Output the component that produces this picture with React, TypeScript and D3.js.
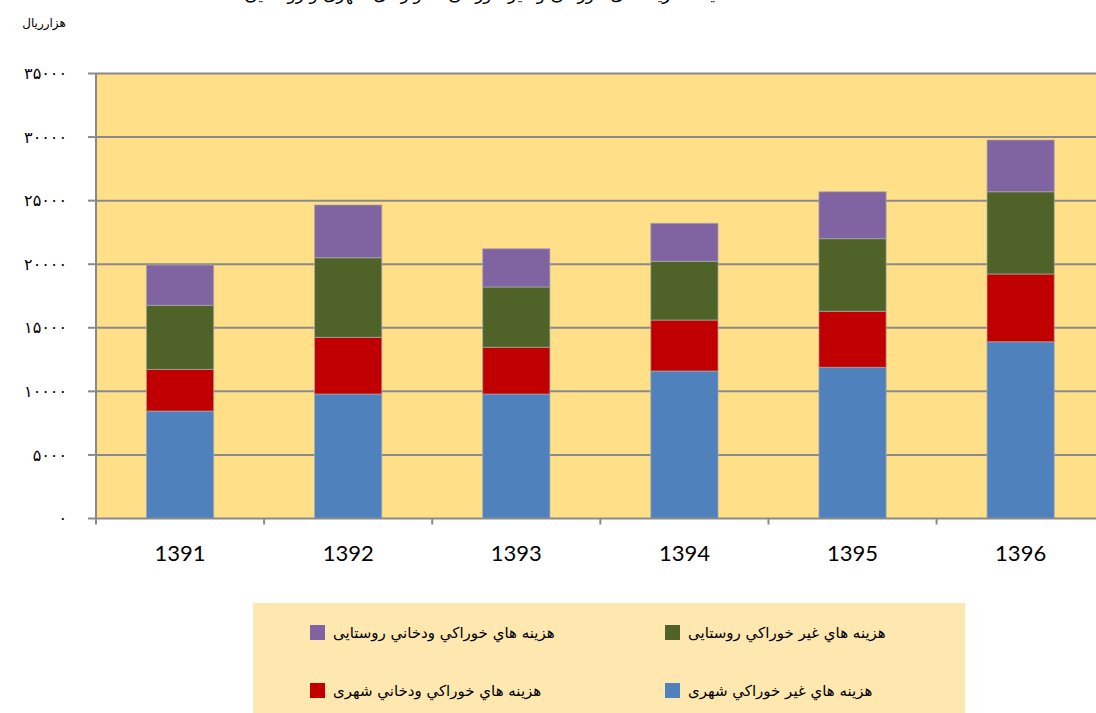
import React from 'react';
import * as d3 from 'd3';

const years = ['1391', '1392', '1393', '1394', '1395', '1396'];
const urbanNonFood = [8450, 9790, 9790, 11600, 11890, 13900];
const urbanFood = [3280, 4460, 3680, 4010, 4410, 5330];
const ruralNonFood = [5035, 6260, 4740, 4620, 5710, 6470];
const ruralFood = [3170, 4150, 3010, 2990, 3690, 4070];
const yTicks = [0, 5000, 10000, 15000, 20000, 25000, 30000, 35000];

const seriesKeys = ['urbanNonFood', 'urbanFood', 'ruralNonFood', 'ruralFood'];
const seriesColors: Record<string, string> = {
  urbanNonFood: '#4F81BD',
  urbanFood: '#C00000',
  ruralNonFood: '#4F6228',
  ruralFood: '#8064A2',
};
const seriesNames: Record<string, string> = {
  urbanNonFood: 'هزینه هاي غیر خوراکي شهری',
  urbanFood: 'هزینه هاي خوراکي ودخاني شهری',
  ruralNonFood: 'هزینه هاي غیر خوراکي روستایی ',
  ruralFood: 'هزینه هاي خوراکي ودخاني روستایی',
};

const title = 'مقایسه هزینه های خوراکی و غیر خوراکی خانوارهای شهری و روستایی';
const yUnit = 'هزارریال';

const persianDigits = '۰۱۲۳۴۵۶۷۸۹';
const toPersian = (n: number) => String(n).replace(/\d/g, d => persianDigits[+d]);

const W = 1096;
const H = 713;
const margin = { left: 96, top: 73.5, bottom: 518.5 };
const plotRight = 1104.7;

export default function App() {
  const rows = years.map((year, i) => ({
    year,
    urbanNonFood: urbanNonFood[i],
    urbanFood: urbanFood[i],
    ruralNonFood: ruralNonFood[i],
    ruralFood: ruralFood[i],
  }));

  const stack = d3.stack<any>().keys(seriesKeys);
  const layers = stack(rows);

  const x = d3.scaleBand<string>().domain(years).range([margin.left, plotRight]).paddingInner(0.6).paddingOuter(0.3);
  const xb = d3.scaleBand<string>().domain(years).range([margin.left, plotRight]);
  const y = d3.scaleLinear().domain([0, 35000]).range([margin.bottom, margin.top]);

  const persianFont = '"DejaVu Sans", sans-serif';
  const grid = '#8a8a8a';

  const legendItems = [
    { key: 'ruralFood', x: 310, y: 625 },
    { key: 'ruralNonFood', x: 665, y: 625 },
    { key: 'urbanFood', x: 310, y: 683 },
    { key: 'urbanNonFood', x: 665, y: 683 },
  ];

  return (
    <svg width={W} height={H} style={{ position: 'absolute', left: 0, top: 0, background: '#fff' }}>
      <text x={491} y={0} textAnchor="middle" fontFamily={persianFont} fontSize={17} fill="#000">
        {title}
      </text>
      <text x={44} y={27} textAnchor="middle" fontFamily={persianFont} fontSize={12} fill="#000">
        {yUnit}
      </text>

      {/* plot background */}
      <rect x={margin.left} y={margin.top} width={plotRight - margin.left} height={margin.bottom - margin.top} fill="#FFDF88" />

      {/* gridlines + y ticks */}
      {yTicks.map(t => (
        <g key={t}>
          {t > 0 && (
            <line x1={margin.left} x2={W} y1={y(t)} y2={y(t)} stroke={grid} strokeWidth={2} />
          )}
          <line x1={88} x2={margin.left} y1={y(t)} y2={y(t)} stroke={grid} strokeWidth={2} />
          <text x={67} y={y(t)} dy="0.35em" textAnchor="end" fontFamily={persianFont} fontSize={16} fill="#000">
            {toPersian(t)}
          </text>
        </g>
      ))}

      {/* bars */}
      {layers.map(layer => (
        <g key={layer.key}>
          {layer.map((d, i) => (
            <rect
              key={i}
              x={x(years[i])}
              width={x.bandwidth()}
              y={y(d[1])}
              height={y(d[0]) - y(d[1])}
              fill={seriesColors[layer.key]}
              stroke="rgba(170,170,170,0.7)"
              strokeWidth={1}
            />
          ))}
        </g>
      ))}

      {/* axes */}
      <line x1={margin.left} x2={margin.left} y1={margin.top} y2={margin.bottom + 6} stroke={grid} strokeWidth={2} />
      <line x1={margin.left} x2={W} y1={margin.bottom} y2={margin.bottom} stroke={grid} strokeWidth={2} />
      {years.map(yr => (
        <line key={yr} x1={(xb(yr) as number) + xb.bandwidth()} x2={(xb(yr) as number) + xb.bandwidth()} y1={margin.bottom} y2={margin.bottom + 6} stroke={grid} strokeWidth={2} />
      ))}
      {years.map(yr => (
        <text key={yr} x={(xb(yr) as number) + xb.bandwidth() / 2} y={553} dy="0.35em" textAnchor="middle" fontFamily="Lato, 'Open Sans', sans-serif" fontSize={22} fill="#000">
          {yr}
        </text>
      ))}

      {/* legend */}
      <rect x={253} y={603} width={712} height={110} fill="#FFE8B0" />
      {legendItems.map(it => (
        <g key={it.key}>
          <rect x={it.x} y={it.y} width={15} height={15} fill={seriesColors[it.key]} />
          <text x={it.x + 23} y={it.y + 8} dy="0.35em" textAnchor="start" fontFamily={persianFont} fontSize={15} fill="#000">
            {seriesNames[it.key]}
          </text>
        </g>
      ))}
    </svg>
  );
}
